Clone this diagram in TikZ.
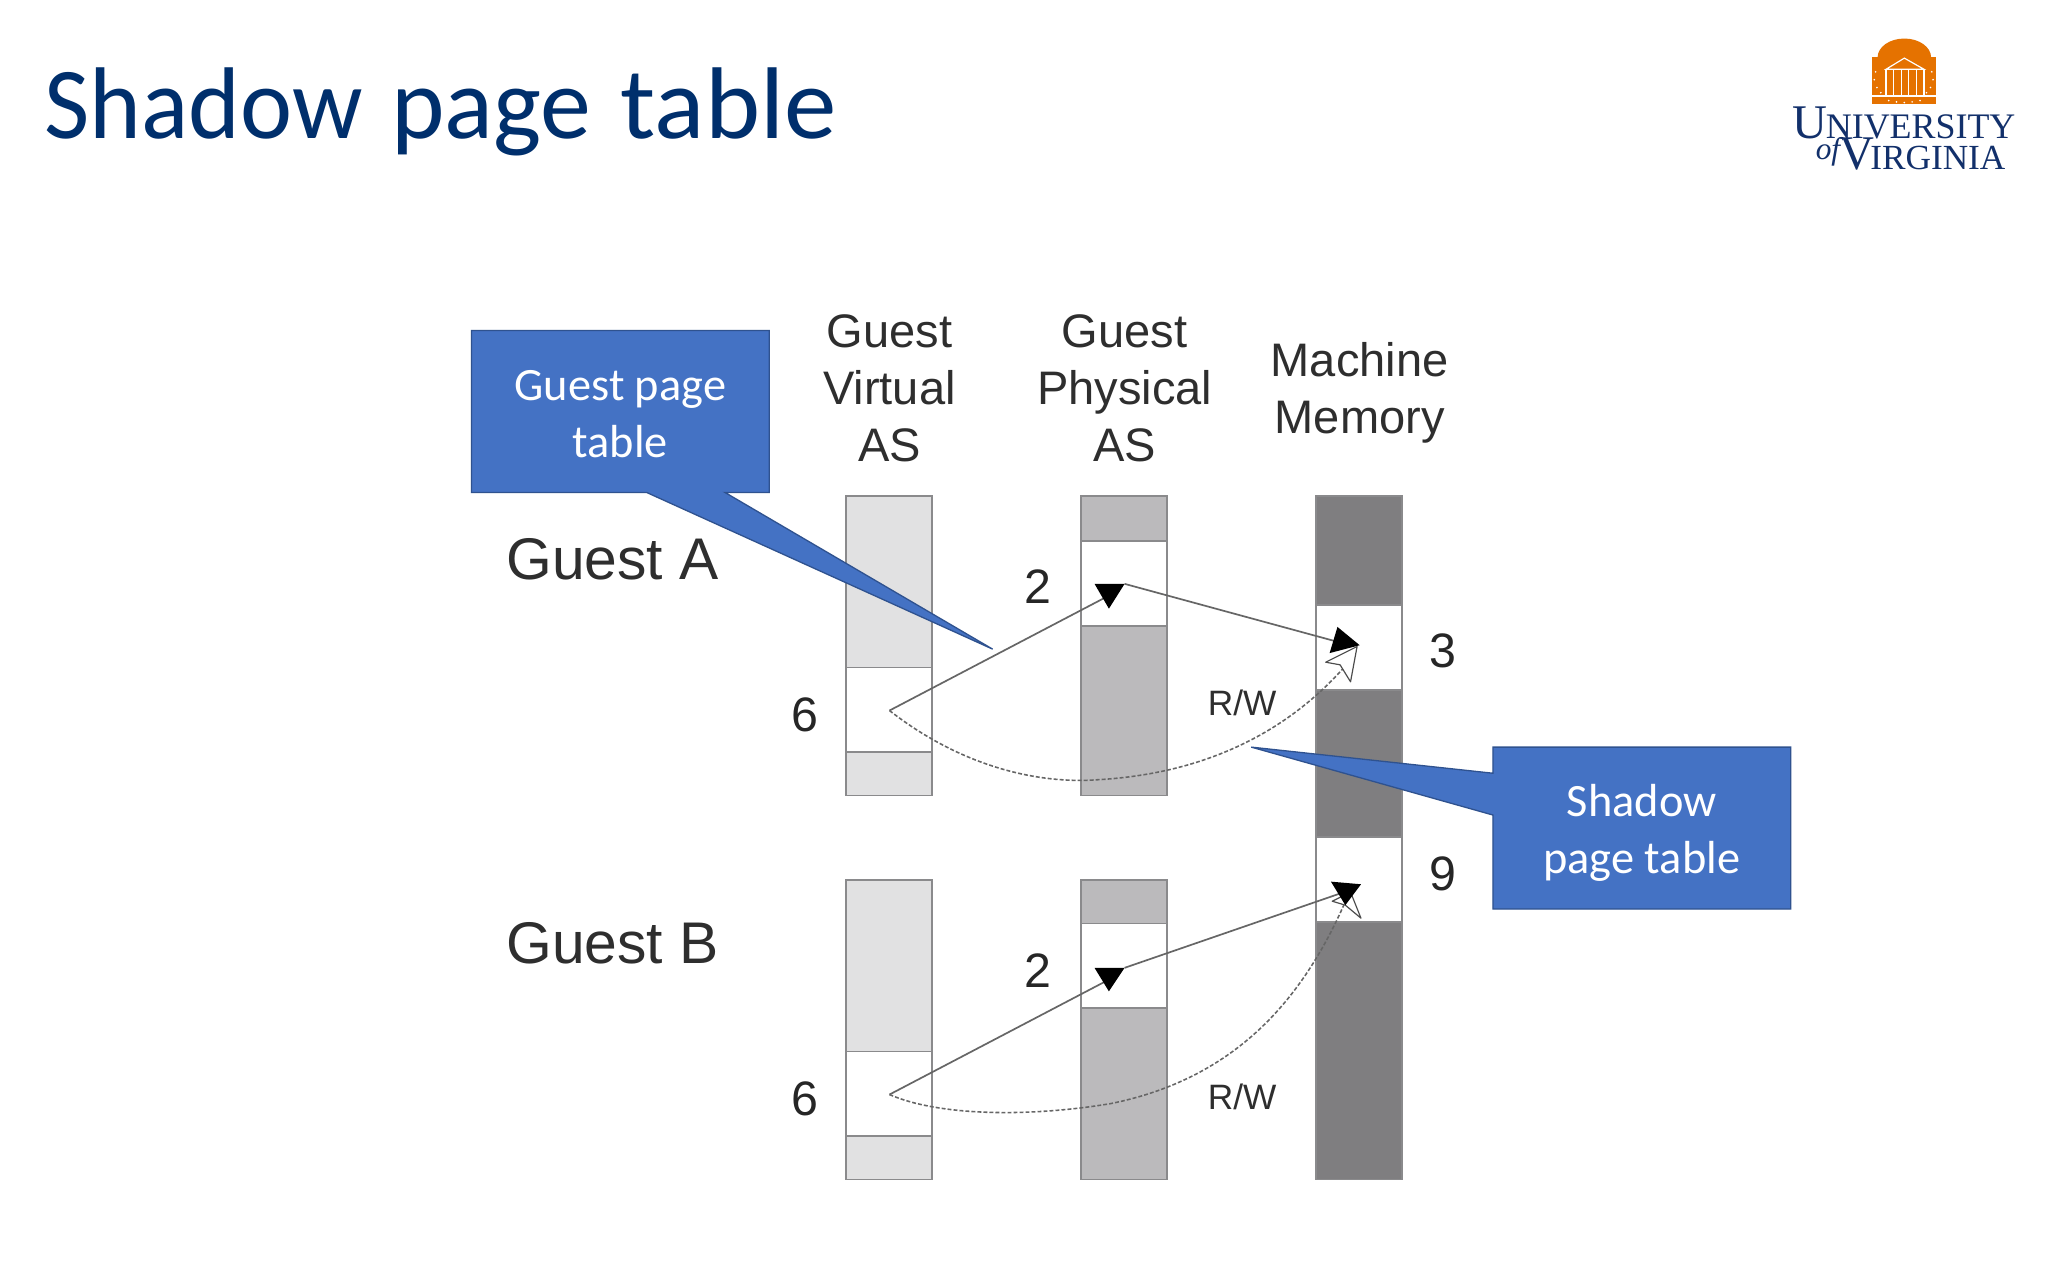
\documentclass[tikz,border=0pt]{standalone}
\usepackage{fontspec}
\setmainfont{Liberation Sans}
\newfontfamily\titlefont{Carlito}
\newfontfamily\titleA[FakeStretch=0.968]{Carlito}
\newfontfamily\titleC[FakeStretch=1.03]{Carlito}
\newfontfamily\logofont{Liberation Serif}
\definecolor{navy}{HTML}{002F6C}
\definecolor{logonavy}{HTML}{12306B}
\definecolor{uvaorange}{HTML}{E57200}
\definecolor{callfill}{HTML}{4472C4}
\definecolor{callline}{HTML}{2F528F}
\definecolor{barA}{HTML}{E1E1E2}
\definecolor{barB}{HTML}{BBBABC}
\definecolor{barC}{HTML}{7F7E80}
\definecolor{edgegray}{HTML}{8A8A8C}
\definecolor{linkgray}{HTML}{666666}
\newcommand{\fs}[1]{\fontsize{#1}{#1}\selectfont}
\newcommand{\fsl}[2]{\fontsize{#1}{#2}\selectfont}
\tikzset{
  bar/.style={draw=edgegray,line width=1.4pt,inner sep=0pt,outer sep=0pt},
  cell/.style={bar,fill=white,minimum height=65pt},
  colw/.style={minimum width=66pt},
  head/.style={align=center,font=\fsl{36}{43.5},text=black!82,inner sep=0pt},
  num/.style={font=\fs{37},text=black!85,inner sep=0pt},
  guest/.style={font=\fs{45},text=black!82,inner sep=0pt},
  rw/.style={font=\fs{27},text=black!82,inner sep=0pt},
  calltext/.style={align=center,text=white,inner sep=0pt,font=\titlefont\fsl{35.5}{44}},
  callout/.style={fill=callfill,draw=callline,line width=1pt,line join=miter},
  link/.style={draw=linkgray,line width=1.3pt},
  dashlink/.style={draw=linkgray,line width=1.2pt,dash pattern=on 3pt off 1.6pt},
  hollowtip/.style={fill=white,draw=black!70,line width=.9pt,line join=round},
}
\begin{document}
\begin{tikzpicture}[x=1pt,y=-1pt]
\useasboundingbox (0,0) rectangle (1568,980);
\fill[white] (0,0) rectangle (1568,980);

% title
\node[anchor=base west,inner sep=0pt,text=navy,font=\fs{78}] (title) at (34,106) {{\titleA Shadow}\kern4pt{\titlefont\ page}\ {\titleC\kern1pt table}};

% logo
\fill[uvaorange] (1437.5,44) arc[start angle=180,end angle=360,x radius=20.5,y radius=14.5] -- cycle;
\fill[uvaorange] (1433,44) rectangle (1482,80);
\draw[white,line width=.9pt] (1444,53) -- (1458,44.5) -- (1473,53) -- cycle;
\foreach \cx in {1444,1450,1455.5,1461,1467,1473}{\draw[white,line width=.9pt] (\cx,53) -- (\cx,73.5);}
\draw[white,line width=.9pt] (1433,73.5) -- (1482,73.5);
\foreach \dx/\dy in {1436/55,1435/61,1437/67,1440/71,1479/55,1480/61,1478/67,1475/71,1446/77,1452/78,1458/78.5,1464/78,1470/77}{\fill[white] (\dx,\dy) circle (.7);}
\node[anchor=base west,inner sep=0pt,text=logonavy,font=\logofont] (uni) at (1372,106) {\fs{37}U\kern-1pt\fs{27.5}NIVERSITY};
\node[anchor=base west,inner sep=0pt,text=logonavy,font=\logofont] (vir) at (1408,130) {\fs{37}V\kern-3pt\fs{27}IRGINIA};
\node[anchor=base west,inner sep=0pt,text=logonavy,font=\logofont\itshape\fs{24}] (of) at (1390,122) {of};

% bars
\node[bar,colw,fill=barA,minimum height=229pt] (va) at (680.5,494.5) {};
\node[cell,colw] (vac) at (680.5,543.5) {};
\node[bar,colw,fill=barB,minimum height=229pt] (pa) at (860.5,494.5) {};
\node[cell,colw] (pac) at (860.5,446.5) {};
\node[bar,colw,fill=barC,minimum height=523pt] (mm) at (1040.5,641.5) {};
\node[cell,colw] (m3) at (1040.5,496) {};
\node[cell,colw] (m9) at (1040.5,673.5) {};
\node[bar,colw,fill=barA,minimum height=229pt] (vb) at (680.5,788.5) {};
\node[cell,colw] (vbc) at (680.5,837.5) {};
\node[bar,colw,fill=barB,minimum height=229pt] (pb) at (860.5,788.5) {};
\node[cell,colw] (pbc) at (860.5,739.5) {};

% headers
\node[head] (h1) at (681,297.5) {Guest\\Virtual\\AS};
\node[head] (h2) at (861,297.5) {Guest\\Physical\\AS};
\node[head] (h3) at (1041,301) {Machine\\Memory};

% labels
\node[guest] (ga) at (469,428) {Guest A};
\node[guest] (gb) at (469,722) {Guest B};
\node[num] (n6a) at (616,547) {6};
\node[num] (n2a) at (795,449) {2};
\node[num] (n3) at (1105,498) {3};
\node[num] (n9) at (1105,669) {9};
\node[num] (n6b) at (616,841) {6};
\node[num] (n2b) at (795,743) {2};
\node[rw] (rwa) at (951,538) {R/W};
\node[rw] (rwb) at (951,840) {R/W};

% anchors for connectors
\coordinate (sa) at (681,544);
\coordinate (ta1) at (849,456);
\coordinate (ta2) at (861,447);
\coordinate (ta3) at (1030,493);
\coordinate (ta4) at (1029,511);
\coordinate (sb) at (681,838);
\coordinate (tb1) at (849,750);
\coordinate (tb2) at (861,741);
\coordinate (tb3) at (1032,682);
\coordinate (tb4) at (1031,688);

% Guest A links
\draw[link] (sa) -- (ta1);
\draw[link] (ta2) -- (ta3);
\draw[dashlink] (sa) .. controls (740,590) and (800,600) .. (840,597) .. controls (930,592) and (990,555) .. (ta4);
\draw[hollowtip] (1015,507) -- (1039,495) -- (1034,522) -- (1026,509) -- cycle;
\fill[black] (838,447) -- (861,447) -- (849,466) -- cycle;
\fill[black] (1024,480) -- (1041,494) -- (1018,500) -- cycle;

% Guest B links
\draw[link] (sb) -- (tb1);
\draw[link] (tb2) -- (tb3);
\draw[dashlink] (sb) .. controls (720,855) and (790,855) .. (850,845) .. controls (950,825) and (1000,760) .. (tb4);
\draw[hollowtip] (1020,690) -- (1034,683) -- (1042,703) -- (1030,693) -- cycle;
\fill[black] (838,741) -- (861,741) -- (849,759) -- cycle;
\fill[black] (1019,675) -- (1042,677) -- (1030,693) -- cycle;

% callouts
\draw[callout] (361,253) -- (589,253) -- (589,377) -- (555,377) -- (760,497) -- (495,377) -- (361,377) -- cycle;
\node[calltext] (c1) at (475,317) {Guest page\\table};
\draw[callout] (1143,572) -- (1371,572) -- (1371,696) -- (1143,696) -- (1143,624) -- (958,572) -- (1143,592) -- cycle;
\node[calltext] (c2) at (1257,637.5) {Shadow\\page table};
\end{tikzpicture}
\end{document}
